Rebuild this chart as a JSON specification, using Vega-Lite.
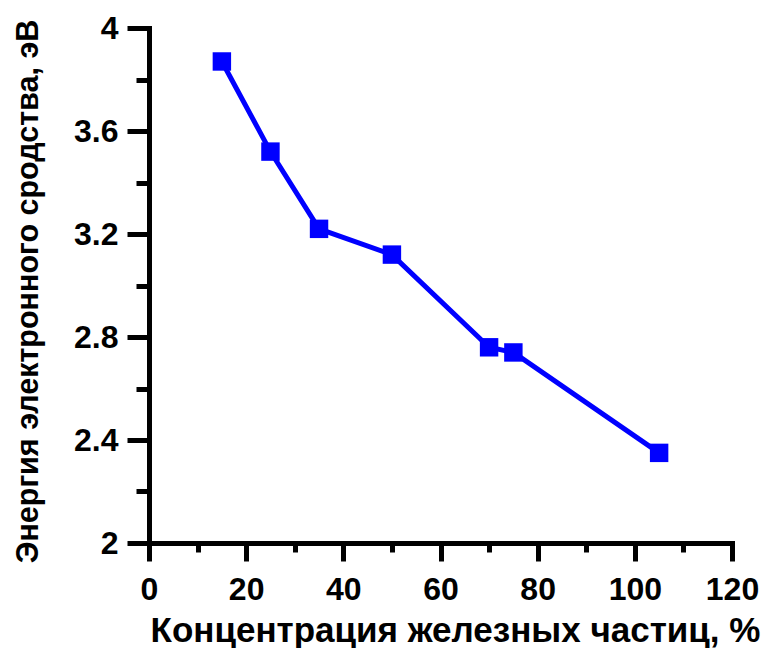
{
  "$schema": "https://vega.github.io/schema/vega-lite/v6.json",
  "autosize": "none",
  "width": 583,
  "height": 515,
  "padding": {"left": 149, "top": 28, "right": 32, "bottom": 105},
  "background": "white",
  "config": {"view": {"stroke": null}},
  "data": {"values": [
    {"c": 15, "e": 3.87},
    {"c": 25, "e": 3.52},
    {"c": 35, "e": 3.22},
    {"c": 50, "e": 3.12},
    {"c": 70, "e": 2.76},
    {"c": 75, "e": 2.74},
    {"c": 105, "e": 2.35}
  ]},
  "resolve": {"axis": {"x": "independent", "y": "independent"}},
  "layer": [
    {
      "mark": {"type": "line", "color": "#0000FF", "strokeWidth": 5},
      "encoding": {
        "x": {"field": "c", "type": "quantitative",
          "scale": {"domain": [0, 120], "nice": false, "zero": false},
          "axis": {
            "orient": "bottom",
            "title": "Концентрация железных частиц, %",
            "values": [0, 20, 40, 60, 80, 100, 120],
            "format": "d",
            "grid": false,
            "domainColor": "black", "domainWidth": 5, "domainCap": "square",
            "tickColor": "black", "tickWidth": 5, "tickSize": 18,
            "labelFont": "Liberation Sans", "labelFontWeight": "bold", "labelFontSize": 32, "labelColor": "black",
            "labelPadding": 13, "labelFlush": false, "labelOverlap": false,
            "titleFont": "Liberation Sans", "titleFontWeight": "bold", "titleFontSize": 35, "titleColor": "black",
            "titleX": 306, "titleY": 98, "titleBaseline": "alphabetic", "titleAlign": "center"
          }},
        "y": {"field": "e", "type": "quantitative",
          "scale": {"domain": [2, 4], "nice": false, "zero": false},
          "axis": {
            "orient": "left",
            "title": "Энергия электронного сродства, эВ",
            "values": [2, 2.4, 2.8, 3.2, 3.6, 4],
            "format": "~g",
            "grid": false,
            "domainColor": "black", "domainWidth": 5, "domainCap": "square",
            "tickColor": "black", "tickWidth": 5, "tickSize": 22,
            "labelFont": "Liberation Sans", "labelFontWeight": "bold", "labelFontSize": 32, "labelColor": "black",
            "labelPadding": 9, "labelFlush": false, "labelOverlap": false,
            "titleFont": "Liberation Sans", "titleFontWeight": "bold", "titleFontSize": 30.5, "titleColor": "black",
            "titleX": -112, "titleY": 263, "titleAngle": -90, "titleBaseline": "alphabetic", "titleAlign": "center"
          }}
      }
    },
    {
      "mark": {"type": "square", "color": "#0000FF", "opacity": 1, "filled": true, "size": 340},
      "encoding": {
        "x": {"field": "c", "type": "quantitative",
          "axis": {
            "orient": "bottom", "title": null, "labels": false, "domain": false, "grid": false,
            "values": [10, 30, 50, 70, 90, 110],
            "tickColor": "black", "tickWidth": 5, "tickSize": 9
          }},
        "y": {"field": "e", "type": "quantitative",
          "axis": {
            "orient": "left", "title": null, "labels": false, "domain": false, "grid": false,
            "values": [2.2, 2.6, 3.0, 3.4, 3.8],
            "tickColor": "black", "tickWidth": 5, "tickSize": 13
          }}
      }
    }
  ]
}
